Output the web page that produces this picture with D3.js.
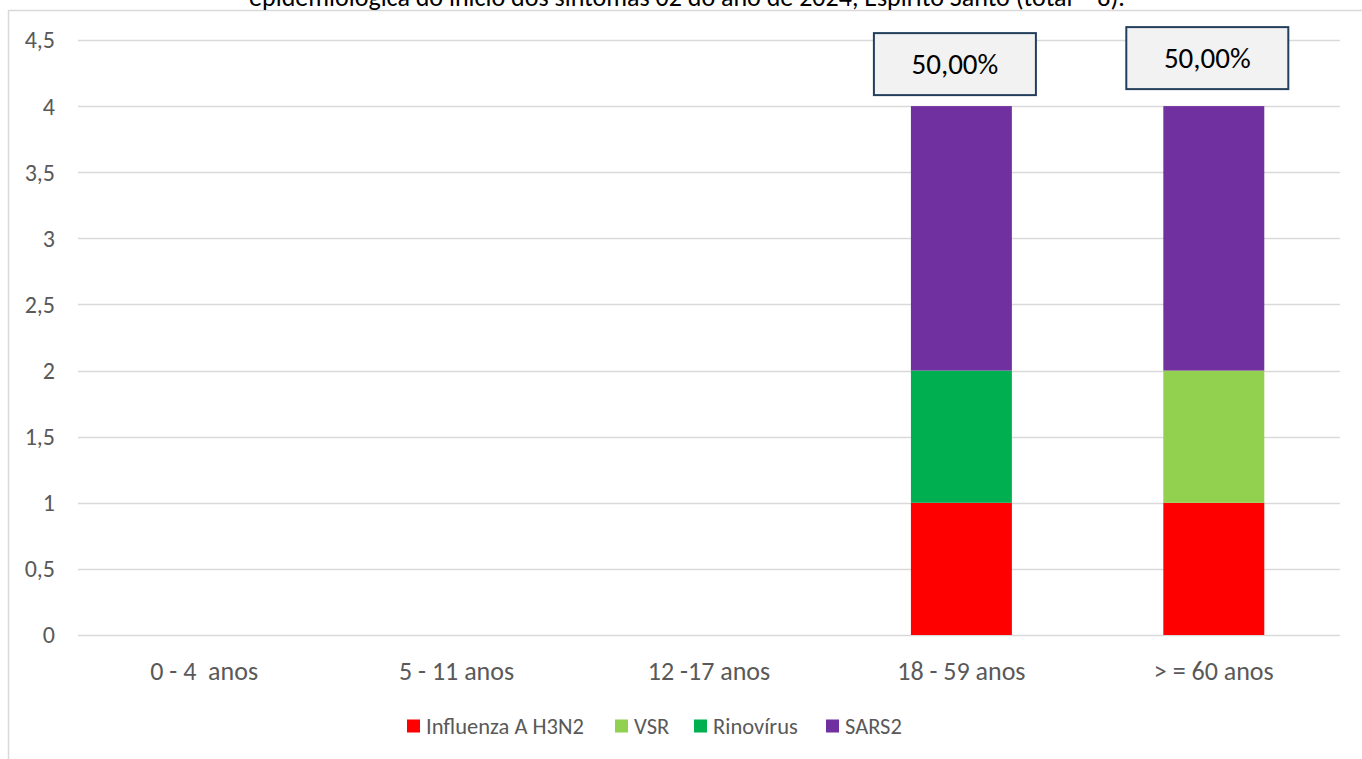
<!DOCTYPE html>
<html>
<head>
<meta charset="utf-8">
<script src="https://cdn.jsdelivr.net/npm/d3@7"></script>
<style>
  html, body { margin: 0; padding: 0; background: #fff; }
  svg { display: block; font-family: Carlito, Calibri, Lato, "Open Sans", sans-serif; }
</style>
</head>
<body>
<svg id="chart" width="1362" height="759"></svg>
<script>
const categories = ["0 - 4  anos", "5 - 11 anos", "12 -17 anos", "18 - 59 anos", "> = 60 anos"];
const seriesNames = ["Influenza A H3N2", "VSR", "Rinovírus", "SARS2"];
const seriesColors = ["#ff0000", "#92d050", "#00b050", "#7030a0"];
const influenzaH3N2 = [0, 0, 0, 1, 1];
const vsr = [0, 0, 0, 0, 1];
const rinovirus = [0, 0, 0, 1, 0];
const sars2 = [0, 0, 0, 2, 2];
const totalLabels = ["", "", "", "50,00%", "50,00%"];
const yTicks = [0, 0.5, 1, 1.5, 2, 2.5, 3, 3.5, 4, 4.5];
const titleText = "epidemiológica do início dos sintomas 02 do ano de 2024, Espírito Santo (total = 8).";

const svg = d3.select("#chart");
const W = 1362, H = 759;
const plot = { left: 78, right: 1340, top: 40, bottom: 635 };

const rows = categories.map((c, i) => ({
  cat: c,
  "Influenza A H3N2": influenzaH3N2[i],
  "VSR": vsr[i],
  "Rinovírus": rinovirus[i],
  "SARS2": sars2[i],
  label: totalLabels[i]
}));

const x = d3.scaleBand().domain(categories).range([plot.left, plot.right]).paddingInner(0.6).paddingOuter(0.3);
const y = d3.scaleLinear().domain([0, 4.5]).range([plot.bottom, plot.top]);
const color = d3.scaleOrdinal().domain(seriesNames).range(seriesColors);

// chart frame (top and left border)
svg.append("path").attr("d", `M8.5,${H} L8.5,10.5 L${W},10.5`)
  .attr("fill", "none").attr("stroke", "#d9d9d9").attr("stroke-width", 1.5);

// title (cut off at top, as in the source)
svg.append("text").attr("x", 687).attr("y", 6).attr("text-anchor", "middle")
  .attr("font-size", 26).attr("fill", "#000").text(titleText);

// gridlines
svg.append("g").selectAll("line").data(yTicks).join("line")
  .attr("x1", plot.left).attr("x2", plot.right)
  .attr("y1", d => Math.round(y(d)) + 0.5).attr("y2", d => Math.round(y(d)) + 0.5)
  .attr("stroke", "#d9d9d9").attr("stroke-width", 1.5);

// y axis labels
const fmt = d => d3.format("")(d).replace(".", ",");
svg.append("g").selectAll("text").data(yTicks).join("text")
  .attr("x", 55).attr("y", d => y(d)).attr("dy", "0.35em").attr("text-anchor", "end")
  .attr("font-size", 24).attr("fill", "#595959").text(fmt);

// stacked bars
const stack = d3.stack().keys(seriesNames);
const stacked = stack(rows);
svg.append("g").selectAll("g").data(stacked).join("g")
  .attr("fill", d => color(d.key))
  .selectAll("rect").data(d => d).join("rect")
  .attr("x", d => x(d.data.cat))
  .attr("width", x.bandwidth())
  .attr("y", d => y(d[1]))
  .attr("height", d => y(d[0]) - y(d[1]));

// x axis labels
svg.append("g").selectAll("text").data(categories).join("text")
  .attr("x", d => x(d) + x.bandwidth() / 2).attr("y", 671).attr("dy", "0.35em")
  .attr("text-anchor", "middle").attr("font-size", 26).attr("fill", "#595959")
  .style("white-space", "pre").attr("xml:space", "preserve").text(d => d);

// total labels (boxes)
const boxOffsets = [0, 0, 0, -11, -17];
const lbl = svg.append("g").selectAll("g").data(rows.filter(r => r.label)).join("g")
  .attr("transform", d => {
    const i = categories.indexOf(d.cat);
    const total = seriesNames.reduce((s, k) => s + d[k], 0);
    return `translate(${x(d.cat) + x.bandwidth() / 2 - 6.5},${y(total) + boxOffsets[i] - 31})`;
  });
lbl.append("rect").attr("x", -81).attr("y", -31).attr("width", 162).attr("height", 62)
  .attr("fill", "#f2f2f2").attr("stroke", "#243f5c").attr("stroke-width", 2);
lbl.append("text").attr("y", 0).attr("dy", "0.35em").attr("text-anchor", "middle")
  .attr("font-size", 29).attr("fill", "#000").text(d => d.label);

// legend
const legendItems = [
  { name: seriesNames[0], x: 407 },
  { name: seriesNames[1], x: 615 },
  { name: seriesNames[2], x: 694 },
  { name: seriesNames[3], x: 826 }
];
const lg = svg.append("g").selectAll("g").data(legendItems).join("g")
  .attr("transform", d => `translate(${d.x},726)`);
lg.append("rect").attr("x", 0).attr("y", -6.5).attr("width", 13).attr("height", 13)
  .attr("fill", d => color(d.name));
lg.append("text").attr("x", 19).attr("y", 0).attr("dy", "0.35em")
  .attr("font-size", 22.5).attr("fill", "#595959").text(d => d.name);
</script>
</body>
</html>
